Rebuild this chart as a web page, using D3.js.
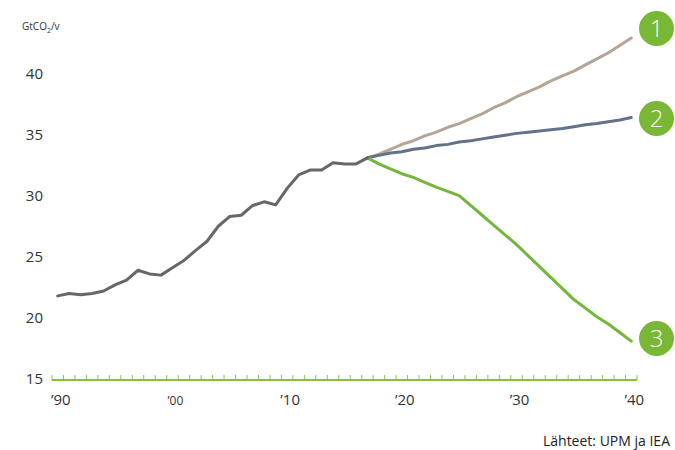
<!DOCTYPE html>
<html><head><meta charset="utf-8">
<script src="https://cdn.jsdelivr.net/npm/d3@7/dist/d3.min.js"></script>
<style>body{margin:0;background:#fff}svg{display:block}text{font-family:"Open Sans","Noto Sans",sans-serif}</style>
</head><body><svg id="c" width="675" height="450"></svg>
<script>
const histYears = d3.range(1990, 2018);
const histValues = [21.8,22.0,21.9,22.0,22.2,22.7,23.1,23.9,23.6,23.5,24.1,24.7,25.5,26.25,27.5,28.3,28.4,29.2,29.5,29.25,30.6,31.7,32.1,32.1,32.7,32.6,32.6,33.1];
const scenYears = d3.range(2017, 2041);
const scen1 = [33.1,33.4,33.8,34.2,34.5,34.9,35.2,35.6,35.9,36.3,36.7,37.2,37.6,38.1,38.5,38.9,39.4,39.8,40.2,40.7,41.2,41.7,42.3,42.9];
const scen2 = [33.1,33.3,33.5,33.6,33.8,33.9,34.1,34.2,34.4,34.5,34.65,34.8,34.95,35.1,35.2,35.3,35.4,35.5,35.65,35.8,35.9,36.05,36.2,36.4];
const scen3 = [33.1,32.6,32.2,31.8,31.5,31.1,30.7,30.35,30.0,29.2,28.4,27.6,26.8,26.0,25.1,24.2,23.3,22.4,21.5,20.8,20.1,19.5,18.8,18.1];
const yTicks = [15,20,25,30,35,40];
const xLabelYears = [1990,2000,2010,2020,2030,2040];
const xLabels = ["\u201990","\u201900","\u201910","\u201920","\u201930","\u201940"];
const badgeLabels = ["1","2","3"];

const svg = d3.select("#c");
const allYears = d3.range(1990, 2041);
const x = d3.scaleBand().domain(allYears).range([52, 637]).padding(0);
const xc = yr => x(yr) + x.bandwidth()/2;
const y = d3.scaleLinear().domain([15, 40]).range([379, 73.5]);

// y labels
svg.append("g").selectAll("text").data(yTicks).join("text")
  .attr("x", 43).attr("y", d => y(d)).attr("dy", "0.35em")
  .attr("text-anchor", "end").attr("font-size", 15).attr("fill", "#333").text(d => d);

// unit label
const unit = svg.append("text").attr("x", 22).attr("y", 30).attr("font-size", 10).attr("fill", "#333");
unit.append("tspan").text("GtCO");
unit.append("tspan").attr("font-size", 7).attr("dy", 3).text("2");
unit.append("tspan").attr("dy", -3).text("/v");

// x axis
const edges = allYears.map(d => x(d)).concat([x(2040) + x.bandwidth()]);
svg.append("g").selectAll("line").data(edges).join("line")
  .attr("x1", d => d).attr("x2", d => d).attr("y1", 375).attr("y2", 380)
  .attr("stroke", "#8cc63f").attr("stroke-width", 1);
svg.append("line").attr("x1", x.range()[0]).attr("x2", x.range()[1]).attr("y1", 380).attr("y2", 380)
  .attr("stroke", "#84c23a").attr("stroke-width", 2);
svg.append("g").selectAll("text").data(xLabelYears).join("text")
  .attr("x", d => xc(d) + 3).attr("y", 405)
  .attr("text-anchor", "middle").attr("font-size", (d,i) => i === 1 ? 12 : 15).attr("fill", "#333")
  .text((d,i) => xLabels[i]);

const line = d3.line().x(d => xc(d[0])).y(d => y(d[1]));
const drawLine = (years, vals, color) => svg.append("path")
  .datum(years.map((yr,i) => [yr, vals[i]]))
  .attr("d", line).attr("fill", "none").attr("stroke", color).attr("stroke-width", 3)
  .attr("stroke-linejoin", "round").attr("stroke-linecap", "round");

drawLine(scenYears, scen1, "#b4a597");
drawLine(scenYears, scen2, "#637189");
drawLine(scenYears, scen3, "#74b83b");
drawLine(histYears, histValues, "#676767");

// badges
const badgeY = [28.5, 118.5, 338.5];
const badges = svg.append("g").selectAll("g").data(badgeLabels).join("g")
  .attr("transform", (d,i) => `translate(656.5,${badgeY[i]})`);
badges.append("circle").attr("r", 17.5).attr("fill", "#78b834");
badges.append("text").attr("text-anchor", "middle").attr("dy", "0.36em")
  .attr("font-size", 24).attr("font-weight", 300).attr("fill", "#fff").text(d => d);

svg.append("text").attr("x", 670).attr("y", 446).attr("text-anchor", "end")
  .attr("font-size", 14).attr("fill", "#222").text("Lähteet: UPM ja IEA");
</script></body></html>
